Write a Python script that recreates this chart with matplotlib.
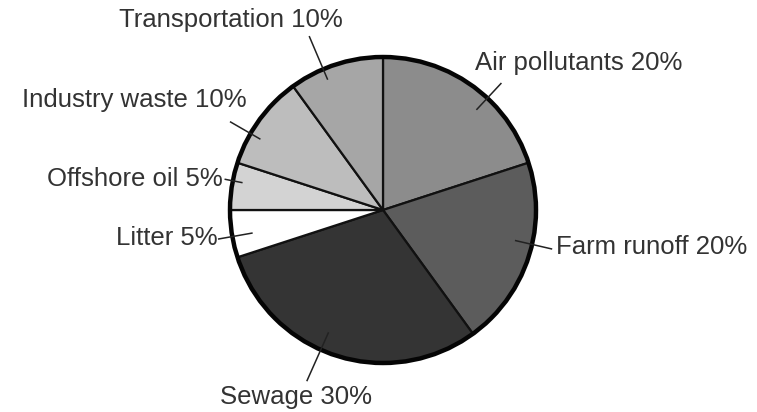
import numpy as np
import matplotlib
matplotlib.use("Agg")
import matplotlib.pyplot as plt

# dados do gráfico (sentido horário a partir do topo)
categorias = ["Air pollutants", "Farm runoff", "Sewage", "Litter",
              "Offshore oil", "Industry waste", "Transportation"]
percentuais = [20, 20, 30, 5, 5, 10, 10]
cores = ["#8c8c8c", "#5c5c5c", "#343434", "#ffffff",
         "#d3d3d3", "#bdbdbd", "#a6a6a6"]

# layout dos rótulos (coordenadas do pie, raio = 1)
pos_texto = [(0.60, 0.96), (1.13, -0.24), (-0.57, -1.22), (-1.08, -0.18),
             (-1.05, 0.20), (-0.89, 0.72), (-0.26, 1.24)]
alinhamento = ["left", "left", "center", "right", "right", "right", "right"]
desvio_guia = [-7, 5, -6, 1, -2, 6, 5]  # graus em relação ao meio da fatia
raio_guia = [(0.90, 1.13), (0.89, 1.13), (0.88, 1.22), (0.87, 1.09),
             (0.94, 1.05), (0.93, 1.15), (0.93, 1.23)]

plt.rcParams["font.family"] = ["Liberation Sans", "DejaVu Sans"]

fig = plt.figure(figsize=(7.57, 4.12), dpi=100)
ax = fig.add_axes([0.0, 0.0, 1.0, 1.0])

wedges, _ = ax.pie(percentuais, colors=cores, startangle=90, counterclock=False,
                   radius=1.0, center=(0, 0),
                   wedgeprops=dict(edgecolor="#111111", linewidth=1.6))

# contorno externo mais grosso
ax.add_patch(plt.Circle((0, 0), 1.0, fill=False, edgecolor="#050505", linewidth=3.2))

for w, nome, pct, (tx, ty), ha, dv, (r0, r1) in zip(
        wedges, categorias, percentuais, pos_texto, alinhamento, desvio_guia, raio_guia):
    ang = np.deg2rad((w.theta1 + w.theta2) / 2 + dv)
    ax.plot([r0 * np.cos(ang), r1 * np.cos(ang)], [r0 * np.sin(ang), r1 * np.sin(ang)],
            color="#222222", linewidth=1.1)
    ax.text(tx, ty, f"{nome} {pct}%", ha=ha, va="center", fontsize=18.5,
            color="#333333")

# centro do pie em (383, 210) px, raio 153 px
escala = 153.0
ax.set_xlim(-383 / escala, (757 - 383) / escala)
ax.set_ylim(-(412 - 210) / escala, 210 / escala)
ax.set_aspect("equal")
ax.axis("off")

fig.savefig("out.png", dpi=100)
